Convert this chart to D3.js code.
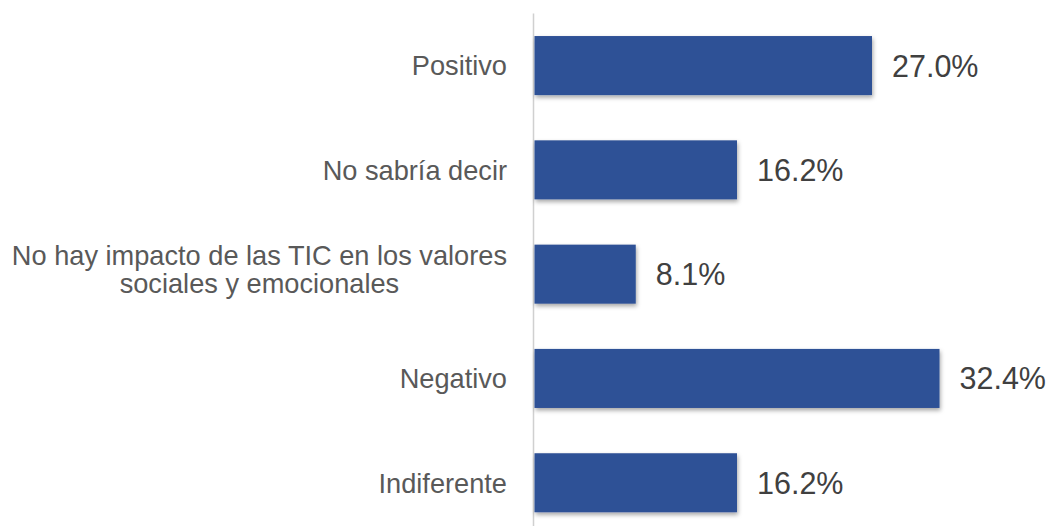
<!DOCTYPE html>
<html>
<head>
<meta charset="utf-8">
<script src="https://cdn.jsdelivr.net/npm/d3@7"></script>
<style>
  body { margin: 0; background: #fff; }
  svg { display: block; font-family: "Liberation Sans", Arial, sans-serif; }
  .cat { fill: #595959; font-size: 27.2px; }
  .val { fill: #404040; font-size: 30.5px; }
</style>
</head>
<body>
<svg width="1051" height="526"></svg>
<script>
// categories top to bottom, "\n" = line break in the label
var categories = [
  "Positivo",
  "No sabría decir",
  "No hay impacto de las TIC en los valores\nsociales y emocionales",
  "Negativo",
  "Indiferente"
];
var values = [27.0, 16.2, 8.1, 32.4, 16.2];

var width = 1051, height = 526;
var axisX = 533.5;
var labelRight = 507;

var svg = d3.select("svg");

var defs = svg.append("defs");
defs.append("filter")
  .attr("id", "shadow")
  .attr("x", "-5%").attr("y", "-20%")
  .attr("width", "115%").attr("height", "160%")
  .append("feDropShadow")
    .attr("dx", 1)
    .attr("dy", 2.5)
    .attr("stdDeviation", 2)
    .attr("flood-color", "#000")
    .attr("flood-opacity", 0.35);

var y = d3.scaleBand()
  .domain(categories)
  .range([13.4, 534.9])
  .paddingInner(0.434)
  .paddingOuter(0.217);

var x = d3.scaleLinear()
  .domain([0, 32.4])
  .range([534.5, 939.5]);

// vertical category axis line
svg.append("line")
  .attr("x1", axisX).attr("x2", axisX)
  .attr("y1", y.range()[0]).attr("y2", height)
  .attr("stroke", "#d0d0d0")
  .attr("stroke-width", 1.5);

var rows = svg.append("g")
  .selectAll("g")
  .data(categories)
  .enter()
  .append("g");

rows.append("rect")
  .attr("x", x(0))
  .attr("y", function(d) { return y(d); })
  .attr("width", function(d, i) { return x(values[i]) - x(0); })
  .attr("height", y.bandwidth())
  .attr("fill", "#2f5196")
  .attr("filter", "url(#shadow)");

// value labels, pulled back in if they would run off the right edge
rows.append("text")
  .attr("class", "val")
  .attr("y", function(d) { return y(d) + y.bandwidth() / 2; })
  .attr("dy", "0.36em")
  .text(function(d, i) { return values[i].toFixed(1) + "%"; })
  .attr("x", function(d, i) {
    var w = this.getComputedTextLength();
    return Math.min(x(values[i]) + 20, width - 5 - w);
  });

// category labels, multi-line ones centred as a block, right edge at labelRight
var lineH = 28;
rows.each(function(d) {
  var lines = d.split("\n");
  var g = d3.select(this);
  var cy = y(d) + y.bandwidth() / 2;
  if (lines.length > 1) cy -= 5;
  var t = g.append("text")
    .attr("class", "cat");
  lines.forEach(function(l, k) {
    t.append("tspan")
      .attr("y", cy + (k - (lines.length - 1) / 2) * lineH)
      .attr("dy", "0.36em")
      .text(l);
  });
  if (lines.length === 1) {
    t.attr("text-anchor", "end");
    t.selectAll("tspan").attr("x", labelRight);
  } else {
    var maxW = 0;
    t.selectAll("tspan").each(function() {
      maxW = Math.max(maxW, this.getComputedTextLength());
    });
    t.attr("text-anchor", "middle");
    t.selectAll("tspan").attr("x", labelRight - maxW / 2);
  }
});
</script>
</body>
</html>
